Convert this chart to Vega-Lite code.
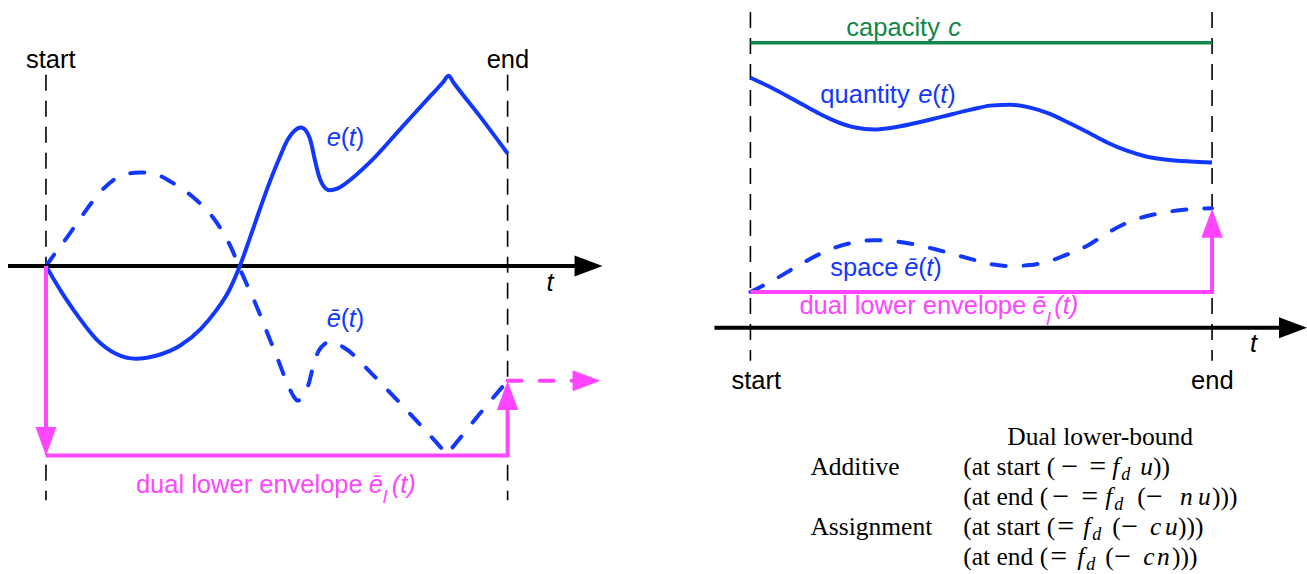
{
"$schema": "https://vega.github.io/schema/vega-lite/v6.json",
"width": 1307, "height": 574,
"autosize": {"type": "fit", "contains": "padding"},
"padding": 0,
"background": "#ffffff",
"config": {"view": {"stroke": null}},
"datasets": {
"lines": [
{"id":"g1","series":"guide","i":0,"x":45,"y":75},{"id":"g1","series":"guide","i":1,"x":45,"y":502},
{"id":"g2","series":"guide","i":0,"x":507,"y":75},{"id":"g2","series":"guide","i":1,"x":507,"y":502},
{"id":"g3","series":"guide","i":0,"x":750,"y":12},{"id":"g3","series":"guide","i":1,"x":750,"y":362},
{"id":"g4","series":"guide","i":0,"x":1212,"y":12},{"id":"g4","series":"guide","i":1,"x":1212,"y":362},
{"id":"a1","series":"axis","i":0,"x":7,"y":267},{"id":"a1","series":"axis","i":1,"x":577,"y":267},
{"id":"a2","series":"axis","i":0,"x":714,"y":329},{"id":"a2","series":"axis","i":1,"x":1282,"y":329},
{"id":"cap","series":"capacity","i":0,"x":750,"y":43},{"id":"cap","series":"capacity","i":1,"x":1212,"y":43},
{"id":"Le","series":"quantity","i":0,"x":45,"y":267},
{"id":"Le","series":"quantity","i":1,"x":52,"y":279},
{"id":"Le","series":"quantity","i":2,"x":65,"y":300},
{"id":"Le","series":"quantity","i":3,"x":79,"y":320},
{"id":"Le","series":"quantity","i":4,"x":95,"y":340},
{"id":"Le","series":"quantity","i":5,"x":115,"y":355},
{"id":"Le","series":"quantity","i":6,"x":135,"y":360},
{"id":"Le","series":"quantity","i":7,"x":155,"y":357},
{"id":"Le","series":"quantity","i":8,"x":179,"y":347},
{"id":"Le","series":"quantity","i":9,"x":200,"y":330},
{"id":"Le","series":"quantity","i":10,"x":215,"y":312},
{"id":"Le","series":"quantity","i":11,"x":228,"y":292},
{"id":"Le","series":"quantity","i":12,"x":239,"y":267},
{"id":"Le","series":"quantity","i":13,"x":248,"y":242},
{"id":"Le","series":"quantity","i":14,"x":258,"y":213},
{"id":"Le","series":"quantity","i":15,"x":268,"y":185},
{"id":"Le","series":"quantity","i":16,"x":278,"y":160},
{"id":"Le","series":"quantity","i":17,"x":287,"y":140},
{"id":"Le","series":"quantity","i":18,"x":294,"y":131},
{"id":"Le","series":"quantity","i":19,"x":300,"y":128},
{"id":"Le","series":"quantity","i":20,"x":305,"y":131},
{"id":"Le","series":"quantity","i":21,"x":310,"y":142},
{"id":"Le","series":"quantity","i":22,"x":314,"y":160},
{"id":"Le","series":"quantity","i":23,"x":318,"y":176},
{"id":"Le","series":"quantity","i":24,"x":323,"y":187},
{"id":"Le","series":"quantity","i":25,"x":329,"y":191},
{"id":"Le","series":"quantity","i":26,"x":337,"y":189},
{"id":"Le","series":"quantity","i":27,"x":345,"y":184},
{"id":"Le","series":"quantity","i":28,"x":369,"y":163},
{"id":"Le","series":"quantity","i":29,"x":400,"y":129},
{"id":"Le","series":"quantity","i":30,"x":430,"y":96},
{"id":"Le","series":"quantity","i":31,"x":442,"y":83},
{"id":"Le","series":"quantity","i":32,"x":448,"y":76},
{"id":"Le","series":"quantity","i":33,"x":453,"y":83},
{"id":"Le","series":"quantity","i":34,"x":478,"y":115},
{"id":"Le","series":"quantity","i":35,"x":507,"y":154},
{"id":"Lb","series":"space","i":0,"x":45,"y":267},
{"id":"Lb","series":"space","i":1,"x":55,"y":253},
{"id":"Lb","series":"space","i":2,"x":67,"y":237},
{"id":"Lb","series":"space","i":3,"x":83,"y":214},
{"id":"Lb","series":"space","i":4,"x":99,"y":193},
{"id":"Lb","series":"space","i":5,"x":119,"y":177},
{"id":"Lb","series":"space","i":6,"x":139,"y":173},
{"id":"Lb","series":"space","i":7,"x":155,"y":175},
{"id":"Lb","series":"space","i":8,"x":171,"y":183},
{"id":"Lb","series":"space","i":9,"x":198,"y":203},
{"id":"Lb","series":"space","i":10,"x":212,"y":218},
{"id":"Lb","series":"space","i":11,"x":222,"y":233},
{"id":"Lb","series":"space","i":12,"x":231,"y":250},
{"id":"Lb","series":"space","i":13,"x":238,"y":267},
{"id":"Lb","series":"space","i":14,"x":245,"y":283},
{"id":"Lb","series":"space","i":15,"x":254,"y":303},
{"id":"Lb","series":"space","i":16,"x":266,"y":333},
{"id":"Lb","series":"space","i":17,"x":278,"y":363},
{"id":"Lb","series":"space","i":18,"x":287,"y":386},
{"id":"Lb","series":"space","i":19,"x":293,"y":398},
{"id":"Lb","series":"space","i":20,"x":297,"y":402},
{"id":"Lb","series":"space","i":21,"x":302,"y":398},
{"id":"Lb","series":"space","i":22,"x":308,"y":385},
{"id":"Lb","series":"space","i":23,"x":313,"y":365},
{"id":"Lb","series":"space","i":24,"x":318,"y":352},
{"id":"Lb","series":"space","i":25,"x":324,"y":345},
{"id":"Lb","series":"space","i":26,"x":329,"y":343},
{"id":"Lb","series":"space","i":27,"x":336,"y":345},
{"id":"Lb","series":"space","i":28,"x":345,"y":350},
{"id":"Lb","series":"space","i":29,"x":372,"y":376},
{"id":"Lb","series":"space","i":30,"x":397,"y":402},
{"id":"Lb","series":"space","i":31,"x":422,"y":429},
{"id":"Lb","series":"space","i":32,"x":441,"y":450},
{"id":"Lb","series":"space","i":33,"x":446,"y":456},
{"id":"Lb","series":"space","i":34,"x":451,"y":450},
{"id":"Lb","series":"space","i":35,"x":476,"y":419},
{"id":"Lb","series":"space","i":36,"x":507,"y":382},
{"id":"Re","series":"quantity","i":0,"x":750,"y":78},
{"id":"Re","series":"quantity","i":1,"x":775,"y":90},
{"id":"Re","series":"quantity","i":2,"x":797,"y":102},
{"id":"Re","series":"quantity","i":3,"x":817,"y":113},
{"id":"Re","series":"quantity","i":4,"x":836,"y":122},
{"id":"Re","series":"quantity","i":5,"x":855,"y":128},
{"id":"Re","series":"quantity","i":6,"x":874,"y":130},
{"id":"Re","series":"quantity","i":7,"x":893,"y":128},
{"id":"Re","series":"quantity","i":8,"x":913,"y":124},
{"id":"Re","series":"quantity","i":9,"x":942,"y":117},
{"id":"Re","series":"quantity","i":10,"x":971,"y":110},
{"id":"Re","series":"quantity","i":11,"x":990,"y":106},
{"id":"Re","series":"quantity","i":12,"x":1010,"y":105},
{"id":"Re","series":"quantity","i":13,"x":1030,"y":108},
{"id":"Re","series":"quantity","i":14,"x":1049,"y":114},
{"id":"Re","series":"quantity","i":15,"x":1068,"y":123},
{"id":"Re","series":"quantity","i":16,"x":1088,"y":133},
{"id":"Re","series":"quantity","i":17,"x":1107,"y":143},
{"id":"Re","series":"quantity","i":18,"x":1126,"y":151},
{"id":"Re","series":"quantity","i":19,"x":1146,"y":157},
{"id":"Re","series":"quantity","i":20,"x":1165,"y":160},
{"id":"Re","series":"quantity","i":21,"x":1190,"y":162},
{"id":"Re","series":"quantity","i":22,"x":1212,"y":163},
{"id":"Rb","series":"space","i":0,"x":750,"y":293},
{"id":"Rb","series":"space","i":1,"x":775,"y":280},
{"id":"Rb","series":"space","i":2,"x":797,"y":267},
{"id":"Rb","series":"space","i":3,"x":817,"y":256},
{"id":"Rb","series":"space","i":4,"x":836,"y":248},
{"id":"Rb","series":"space","i":5,"x":855,"y":243},
{"id":"Rb","series":"space","i":6,"x":874,"y":241},
{"id":"Rb","series":"space","i":7,"x":893,"y":242},
{"id":"Rb","series":"space","i":8,"x":913,"y":245},
{"id":"Rb","series":"space","i":9,"x":942,"y":252},
{"id":"Rb","series":"space","i":10,"x":971,"y":260},
{"id":"Rb","series":"space","i":11,"x":990,"y":265},
{"id":"Rb","series":"space","i":12,"x":1010,"y":267},
{"id":"Rb","series":"space","i":13,"x":1030,"y":266},
{"id":"Rb","series":"space","i":14,"x":1049,"y":262},
{"id":"Rb","series":"space","i":15,"x":1068,"y":255},
{"id":"Rb","series":"space","i":16,"x":1088,"y":246},
{"id":"Rb","series":"space","i":17,"x":1107,"y":234},
{"id":"Rb","series":"space","i":18,"x":1126,"y":224},
{"id":"Rb","series":"space","i":19,"x":1146,"y":217},
{"id":"Rb","series":"space","i":20,"x":1165,"y":213},
{"id":"Rb","series":"space","i":21,"x":1190,"y":210},
{"id":"Rb","series":"space","i":22,"x":1212,"y":209},
{"id":"E1","series":"envelope","i":0,"x":45,"y":267},{"id":"E1","series":"envelope","i":1,"x":45,"y":432},
{"id":"E2","series":"envelope","i":0,"x":45,"y":457},{"id":"E2","series":"envelope","i":1,"x":507,"y":457},{"id":"E2","series":"envelope","i":2,"x":507,"y":411},
{"id":"E3","series":"envelope","i":0,"x":750,"y":293},{"id":"E3","series":"envelope","i":1,"x":1212,"y":293},{"id":"E3","series":"envelope","i":2,"x":1212,"y":238},
{"id":"P1","series":"projection","i":0,"x":507,"y":382},{"id":"P1","series":"projection","i":1,"x":574,"y":382}
],
"heads": [
{"x":588,"y":267,"series":"frame","dir":"right"},
{"x":1293,"y":329,"series":"frame","dir":"right"},
{"x":586,"y":382,"series":"envelope","dir":"right"},
{"x":45,"y":443,"series":"envelope","dir":"down"},
{"x":507,"y":397,"series":"envelope","dir":"up"},
{"x":1212,"y":224,"series":"envelope","dir":"up"}
],
"labels": [
{"x":25,"y":68,"text":"start","series":"frame","face":"sans"},
{"x":486,"y":68,"text":"end","series":"frame","face":"sans"},
{"x":546,"y":292,"text":"t","series":"frame","face":"sansItalic"},
{"x":326,"y":147,"text":"e","series":"quantity","face":"sansItalic"},
{"x":340,"y":147,"text":"(","series":"quantity","face":"sans"},
{"x":348,"y":147,"text":"t","series":"quantity","face":"sansItalic"},
{"x":355,"y":147,"text":")","series":"quantity","face":"sans"},
{"x":326,"y":328,"text":"ē","series":"space","face":"sansItalic"},
{"x":340,"y":328,"text":"(","series":"space","face":"sans"},
{"x":348,"y":328,"text":"t","series":"space","face":"sansItalic"},
{"x":355,"y":328,"text":")","series":"space","face":"sans"},
{"x":135,"y":495,"text":"dual lower envelope","series":"envelope","face":"sans"},
{"x":368,"y":495,"text":"ē","series":"envelope","face":"sansItalic"},
{"x":382,"y":505,"text":"l","series":"envelope","face":"sansSub"},
{"x":391,"y":495,"text":"(t)","series":"envelope","face":"sansItalic"},
{"x":731,"y":390,"text":"start","series":"frame","face":"sans"},
{"x":1191,"y":390,"text":"end","series":"frame","face":"sans"},
{"x":1250,"y":353,"text":"t","series":"frame","face":"sansItalic"},
{"x":846,"y":36,"text":"capacity","series":"capacity","face":"sans"},
{"x":948,"y":36,"text":"c","series":"capacity","face":"sansItalic"},
{"x":820,"y":103,"text":"quantity","series":"quantity","face":"sans"},
{"x":918,"y":103,"text":"e","series":"quantity","face":"sansItalic"},
{"x":932,"y":103,"text":"(","series":"quantity","face":"sans"},
{"x":940,"y":103,"text":"t","series":"quantity","face":"sansItalic"},
{"x":947,"y":103,"text":")","series":"quantity","face":"sans"},
{"x":830,"y":277,"text":"space","series":"space","face":"sans"},
{"x":904,"y":277,"text":"ē","series":"space","face":"sansItalic"},
{"x":918,"y":277,"text":"(","series":"space","face":"sans"},
{"x":926,"y":277,"text":"t","series":"space","face":"sansItalic"},
{"x":933,"y":277,"text":")","series":"space","face":"sans"},
{"x":799,"y":315,"text":"dual lower envelope","series":"envelope","face":"sans"},
{"x":1032,"y":315,"text":"ē","series":"envelope","face":"sansItalic"},
{"x":1046,"y":326,"text":"l","series":"envelope","face":"sansSub"},
{"x":1054,"y":315,"text":"(t)","series":"envelope","face":"sansItalic"},
{"x":1007,"y":447,"text":"Dual lower-bound","series":"frame","face":"serif"},
{"x":810,"y":477,"text":"Additive","series":"frame","face":"serif"},
{"x":963,"y":477,"text":"(at start (","series":"frame","face":"serif"},
{"x":1061,"y":478,"text":"−","series":"frame","face":"serifOp"},
{"x":1089,"y":478,"text":"=","series":"frame","face":"serifOp"},
{"x":1112,"y":477,"text":"f","series":"frame","face":"serifItalic"},
{"x":1121,"y":482,"text":"d","series":"frame","face":"serifSub"},
{"x":1140,"y":477,"text":"u","series":"frame","face":"serifItalic"},
{"x":1153,"y":477,"text":"))","series":"frame","face":"serif"},
{"x":963,"y":507,"text":"(at end (","series":"frame","face":"serif"},
{"x":1052,"y":508,"text":"−","series":"frame","face":"serifOp"},
{"x":1081,"y":508,"text":"=","series":"frame","face":"serifOp"},
{"x":1105,"y":507,"text":"f","series":"frame","face":"serifItalic"},
{"x":1114,"y":512,"text":"d","series":"frame","face":"serifSub"},
{"x":1137,"y":507,"text":"(","series":"frame","face":"serif"},
{"x":1146,"y":508,"text":"−","series":"frame","face":"serifOp"},
{"x":1180,"y":507,"text":"n","series":"frame","face":"serifItalic"},
{"x":1198,"y":507,"text":"u","series":"frame","face":"serifItalic"},
{"x":1212,"y":507,"text":")))","series":"frame","face":"serif"},
{"x":810,"y":537,"text":"Assignment","series":"frame","face":"serif"},
{"x":963,"y":537,"text":"(at start (","series":"frame","face":"serif"},
{"x":1057,"y":538,"text":"=","series":"frame","face":"serifOp"},
{"x":1083,"y":537,"text":"f","series":"frame","face":"serifItalic"},
{"x":1092,"y":542,"text":"d","series":"frame","face":"serifSub"},
{"x":1112,"y":537,"text":"(","series":"frame","face":"serif"},
{"x":1121,"y":538,"text":"−","series":"frame","face":"serifOp"},
{"x":1150,"y":537,"text":"c","series":"frame","face":"serifItalic"},
{"x":1165,"y":537,"text":"u","series":"frame","face":"serifItalic"},
{"x":1178,"y":537,"text":")))","series":"frame","face":"serif"},
{"x":963,"y":567,"text":"(at end (","series":"frame","face":"serif"},
{"x":1050,"y":568,"text":"=","series":"frame","face":"serifOp"},
{"x":1077,"y":567,"text":"f","series":"frame","face":"serifItalic"},
{"x":1086,"y":572,"text":"d","series":"frame","face":"serifSub"},
{"x":1105,"y":567,"text":"(","series":"frame","face":"serif"},
{"x":1114,"y":568,"text":"−","series":"frame","face":"serifOp"},
{"x":1143,"y":567,"text":"c","series":"frame","face":"serifItalic"},
{"x":1157,"y":567,"text":"n","series":"frame","face":"serifItalic"},
{"x":1172,"y":567,"text":")))","series":"frame","face":"serif"}
]
},
"encoding": {
"x": {"field": "x", "type": "quantitative", "scale": {"domain": [0, 1307], "nice": false, "zero": false}, "axis": null},
"y": {"field": "y", "type": "quantitative", "scale": {"domain": [0, 574], "reverse": true, "nice": false, "zero": false}, "axis": null}
},
"layer": [
{"data": {"name": "lines"}, "transform": [{"filter": "datum.series === 'guide'"}],
 "mark": {"type": "line", "color": "#000000", "strokeWidth": 1.6, "strokeDash": [16, 10]},
 "encoding": {"detail": {"field": "id"}, "order": {"field": "i", "type": "quantitative"}}},
{"data": {"name": "lines"}, "transform": [{"filter": "datum.series === 'capacity'"}],
 "mark": {"type": "line", "color": "#12874a", "strokeWidth": 3.5},
 "encoding": {"detail": {"field": "id"}, "order": {"field": "i", "type": "quantitative"}}},
{"data": {"name": "lines"}, "transform": [{"filter": "datum.series === 'space'"}],
 "mark": {"type": "line", "color": "#1238ff", "strokeWidth": 4, "interpolate": "monotone", "strokeDash": [14, 18], "strokeCap": "round"},
 "encoding": {"detail": {"field": "id"}, "order": {"field": "i", "type": "quantitative"}}},
{"data": {"name": "lines"}, "transform": [{"filter": "datum.series === 'axis'"}],
 "mark": {"type": "line", "color": "#000000", "strokeWidth": 4},
 "encoding": {"detail": {"field": "id"}, "order": {"field": "i", "type": "quantitative"}}},
{"data": {"name": "lines"}, "transform": [{"filter": "datum.series === 'quantity'"}],
 "mark": {"type": "line", "color": "#1238ff", "strokeWidth": 4, "interpolate": "monotone"},
 "encoding": {"detail": {"field": "id"}, "order": {"field": "i", "type": "quantitative"}}},
{"data": {"name": "lines"}, "transform": [{"filter": "datum.series === 'envelope'"}],
 "mark": {"type": "line", "color": "#ff45ff", "strokeWidth": 4},
 "encoding": {"detail": {"field": "id"}, "order": {"field": "i", "type": "quantitative"}}},
{"data": {"name": "lines"}, "transform": [{"filter": "datum.series === 'projection'"}],
 "mark": {"type": "line", "color": "#ff45ff", "strokeWidth": 4, "strokeDash": [14, 18], "strokeCap": "round"},
 "encoding": {"detail": {"field": "id"}, "order": {"field": "i", "type": "quantitative"}}},
{"data": {"name": "heads"}, "transform": [{"filter": "datum.dir === 'right'"}],
 "mark": {"type": "point", "shape": "M-1,-0.75L1,0L-1,0.75Z", "size": 784, "filled": true, "opacity": 1, "strokeWidth": 0},
 "encoding": {"color": {"field": "series", "type": "nominal", "scale": {"domain": ["frame", "quantity", "space", "envelope", "capacity"], "range": ["#000000", "#1238ff", "#1238ff", "#ff45ff", "#12874a"]}, "legend": null}}},
{"data": {"name": "heads"}, "transform": [{"filter": "datum.dir === 'down'"}],
 "mark": {"type": "point", "shape": "M-0.72,-1L0.72,-1L0,1Z", "size": 841, "filled": true, "opacity": 1, "strokeWidth": 0},
 "encoding": {"color": {"field": "series", "type": "nominal", "scale": {"domain": ["frame", "quantity", "space", "envelope", "capacity"], "range": ["#000000", "#1238ff", "#1238ff", "#ff45ff", "#12874a"]}, "legend": null}}},
{"data": {"name": "heads"}, "transform": [{"filter": "datum.dir === 'up'"}],
 "mark": {"type": "point", "shape": "M-0.74,1L0.74,1L0,-1Z", "size": 841, "filled": true, "opacity": 1, "strokeWidth": 0},
 "encoding": {"color": {"field": "series", "type": "nominal", "scale": {"domain": ["frame", "quantity", "space", "envelope", "capacity"], "range": ["#000000", "#1238ff", "#1238ff", "#ff45ff", "#12874a"]}, "legend": null}}},
{"data": {"name": "labels"}, "transform": [{"filter": "datum.face === 'sans'"}],
 "mark": {"type": "text", "font": "Liberation Sans", "fontSize": 25.5, "align": "left", "baseline": "alphabetic"},
 "encoding": {"text": {"field": "text"}, "color": {"field": "series", "type": "nominal", "scale": {"domain": ["frame", "quantity", "space", "envelope", "capacity"], "range": ["#000000", "#1238ff", "#1238ff", "#ff45ff", "#12874a"]}, "legend": null}}},
{"data": {"name": "labels"}, "transform": [{"filter": "datum.face === 'sansItalic'"}],
 "mark": {"type": "text", "font": "Liberation Sans", "fontSize": 25.5, "fontStyle": "italic", "align": "left", "baseline": "alphabetic"},
 "encoding": {"text": {"field": "text"}, "color": {"field": "series", "type": "nominal", "scale": {"domain": ["frame", "quantity", "space", "envelope", "capacity"], "range": ["#000000", "#1238ff", "#1238ff", "#ff45ff", "#12874a"]}, "legend": null}}},
{"data": {"name": "labels"}, "transform": [{"filter": "datum.face === 'sansSub'"}],
 "mark": {"type": "text", "font": "Liberation Sans", "fontSize": 19, "fontStyle": "italic", "align": "left", "baseline": "alphabetic"},
 "encoding": {"text": {"field": "text"}, "color": {"field": "series", "type": "nominal", "scale": {"domain": ["frame", "quantity", "space", "envelope", "capacity"], "range": ["#000000", "#1238ff", "#1238ff", "#ff45ff", "#12874a"]}, "legend": null}}},
{"data": {"name": "labels"}, "transform": [{"filter": "datum.face === 'serif'"}],
 "mark": {"type": "text", "font": "Liberation Serif", "fontSize": 25.5, "align": "left", "baseline": "alphabetic"},
 "encoding": {"text": {"field": "text"}, "color": {"field": "series", "type": "nominal", "scale": {"domain": ["frame", "quantity", "space", "envelope", "capacity"], "range": ["#000000", "#1238ff", "#1238ff", "#ff45ff", "#12874a"]}, "legend": null}}},
{"data": {"name": "labels"}, "transform": [{"filter": "datum.face === 'serifOp'"}],
 "mark": {"type": "text", "font": "Liberation Serif", "fontSize": 30, "align": "left", "baseline": "alphabetic"},
 "encoding": {"text": {"field": "text"}, "color": {"field": "series", "type": "nominal", "scale": {"domain": ["frame", "quantity", "space", "envelope", "capacity"], "range": ["#000000", "#1238ff", "#1238ff", "#ff45ff", "#12874a"]}, "legend": null}}},
{"data": {"name": "labels"}, "transform": [{"filter": "datum.face === 'serifItalic'"}],
 "mark": {"type": "text", "font": "Liberation Serif", "fontSize": 25.5, "fontStyle": "italic", "align": "left", "baseline": "alphabetic"},
 "encoding": {"text": {"field": "text"}, "color": {"field": "series", "type": "nominal", "scale": {"domain": ["frame", "quantity", "space", "envelope", "capacity"], "range": ["#000000", "#1238ff", "#1238ff", "#ff45ff", "#12874a"]}, "legend": null}}},
{"data": {"name": "labels"}, "transform": [{"filter": "datum.face === 'serifSub'"}],
 "mark": {"type": "text", "font": "Liberation Serif", "fontSize": 18, "fontStyle": "italic", "align": "left", "baseline": "alphabetic"},
 "encoding": {"text": {"field": "text"}, "color": {"field": "series", "type": "nominal", "scale": {"domain": ["frame", "quantity", "space", "envelope", "capacity"], "range": ["#000000", "#1238ff", "#1238ff", "#ff45ff", "#12874a"]}, "legend": null}}}
]
}
